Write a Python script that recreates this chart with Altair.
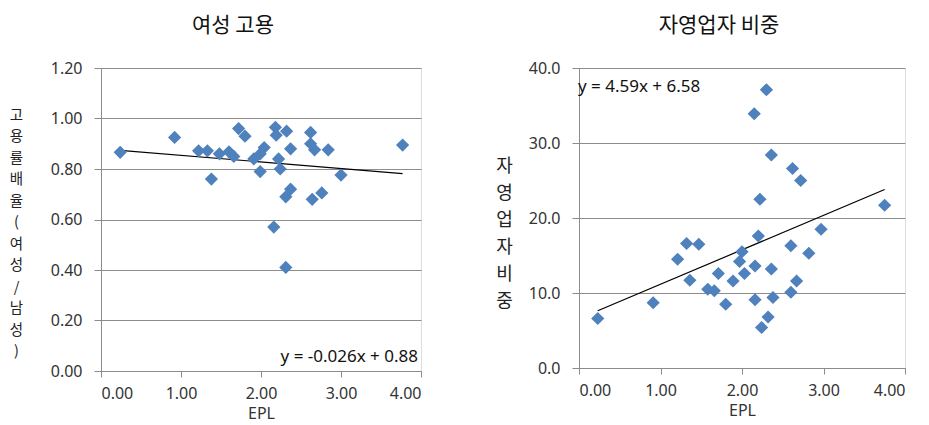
import altair as alt
import pandas as pd

# ---- data: left panel (여성 고용) ----
epl_f = [0.24, 0.92, 1.22, 1.33, 1.38, 1.48, 1.60, 1.66, 1.72, 1.80, 1.91, 1.99, 1.99, 2.04,
         2.18, 2.19, 2.16, 2.22, 2.24, 2.32, 2.31, 2.31, 2.37, 2.37, 2.62, 2.62, 2.67, 2.64,
         2.76, 2.84, 3.00, 3.77]
ratio_f = [0.866, 0.925, 0.872, 0.872, 0.76, 0.86, 0.868, 0.85, 0.96, 0.93, 0.84, 0.86, 0.79, 0.885,
           0.965, 0.934, 0.57, 0.84, 0.80, 0.95, 0.41, 0.69, 0.72, 0.88, 0.945, 0.90, 0.876, 0.68,
           0.705, 0.876, 0.776, 0.895]
coef_f = (-0.026, 0.88)
eq_f = "y = -0.026x + 0.88"

# ---- data: right panel (자영업자 비중) ----
epl_s = [0.23, 0.91, 1.21, 1.32, 1.36, 1.47, 1.58, 1.66, 1.71, 1.80, 1.89, 1.97, 2.00, 2.03,
         2.15, 2.16, 2.16, 2.20, 2.22, 2.24, 2.30, 2.32, 2.36, 2.36, 2.38, 2.60, 2.62, 2.60,
         2.67, 2.72, 2.82, 2.97, 3.75]
share_s = [6.6, 8.7, 14.5, 16.6, 11.7, 16.5, 10.5, 10.3, 12.6, 8.5, 11.6, 14.2, 15.5, 12.6,
           33.9, 13.6, 9.1, 17.6, 22.5, 5.4, 37.1, 6.8, 28.4, 13.2, 9.4, 16.3, 26.6, 10.1,
           11.6, 25.0, 15.3, 18.5, 21.7]
coef_s = (4.59, 6.58)
eq_s = "y = 4.59x + 6.58"

titles = ["여성 고용", "자영업자 비중"]
ytitle_f = "고용률배율(여성/남성)"
ytitle_s = "자영업자비중"
xtitle = "EPL"

x_ticks = [0, 1, 2, 3, 4]
yf_ticks = [0, 0.2, 0.4, 0.6, 0.8, 1.0, 1.2]
ys_ticks = [0, 10, 20, 30, 40]

BLUE = "#4F81BD"
GRID = "#8c8c8c"
LABEL_FONT = "Noto Sans"
KFONT = "Noto Sans CJK KR"
LFS = 16


def trend_df(xs, coef):
    lo, hi = min(xs), max(xs)
    return pd.DataFrame({"x": [lo, hi], "y": [coef[0] * lo + coef[1], coef[0] * hi + coef[1]]})


def x_axis():
    return alt.Axis(values=x_ticks, format=".2f", grid=False, tickSize=6, labelPadding=8,
                    domainColor=GRID, tickColor=GRID, labelColor="#333", labelFontSize=LFS,
                    labelFont=LABEL_FONT, title=xtitle, titleFont=LABEL_FONT, titleFontSize=LFS,
                    titleFontWeight="normal", titleColor="#333", titlePadding=4)


def panel(xs, ys, coef, eq, title, tdx, ydomain, yticks, yfmt, ytitle, tx, ty, tlh, tfs,
          lpad, eqx, eqy, eqalign, width, height):
    df = pd.DataFrame({"x": xs, "y": ys})
    yaxis = alt.Axis(values=yticks, format=yfmt, grid=True, gridColor=GRID, gridWidth=1,
                     tickSize=7, labelPadding=lpad, domainColor=GRID, tickColor=GRID,
                     labelColor="#333", labelFontSize=LFS, labelFont=LABEL_FONT,
                     title=list(ytitle), titleAngle=0, titleAlign="center", titleBaseline="top",
                     titleX=tx, titleY=ty, titleLineHeight=tlh, titleFontSize=tfs,
                     titleFont=KFONT, titleFontWeight="normal", titleColor="#222")
    xs_enc = alt.X("x:Q", scale=alt.Scale(domain=[0, 4], nice=False), axis=x_axis())
    ys_enc = alt.Y("y:Q", scale=alt.Scale(domain=ydomain, nice=False), axis=yaxis)
    pts = alt.Chart(df).mark_point(shape="diamond", filled=True, size=175, color=BLUE,
                                   opacity=1).encode(x=xs_enc, y=ys_enc)
    line = alt.Chart(trend_df(xs, coef)).mark_line(color="black", strokeWidth=1.2).encode(
        x="x:Q", y="y:Q")
    txt = alt.Chart(pd.DataFrame({"t": [eq]})).mark_text(
        align=eqalign, baseline="middle", fontSize=17, font=LABEL_FONT, color="#111").encode(
        text="t:N", x=alt.value(eqx), y=alt.value(eqy))
    return alt.layer(line, pts, txt).properties(
        width=width, height=height,
        title=alt.TitleParams(title, font=KFONT, fontSize=21, fontWeight="normal",
                              color="#111", anchor="middle", dx=tdx, offset=24))


left = panel(epl_f, ratio_f, coef_f, eq_f, titles[0], -28, [0, 1.2], yf_ticks, ".2f", ytitle_f,
             -85, 40, 21.5, 14.5, 12, 317, 289, "right", 320, 303)
right = panel(epl_s, share_s, coef_s, eq_s, titles[1], -23, [0, 40], ys_ticks, ".1f", ytitle_s,
              -75, 89, 27, 18, 12, -1, 19, "left", 326, 300)

chart = alt.hconcat(left, right, spacing=73).properties(
    padding={"left": 0, "top": 6, "right": 0, "bottom": 0}).configure_view(
    stroke=GRID, strokeWidth=1).configure(background="white")

chart.save("out.html", embed_options={"renderer": "svg", "actions": False})
